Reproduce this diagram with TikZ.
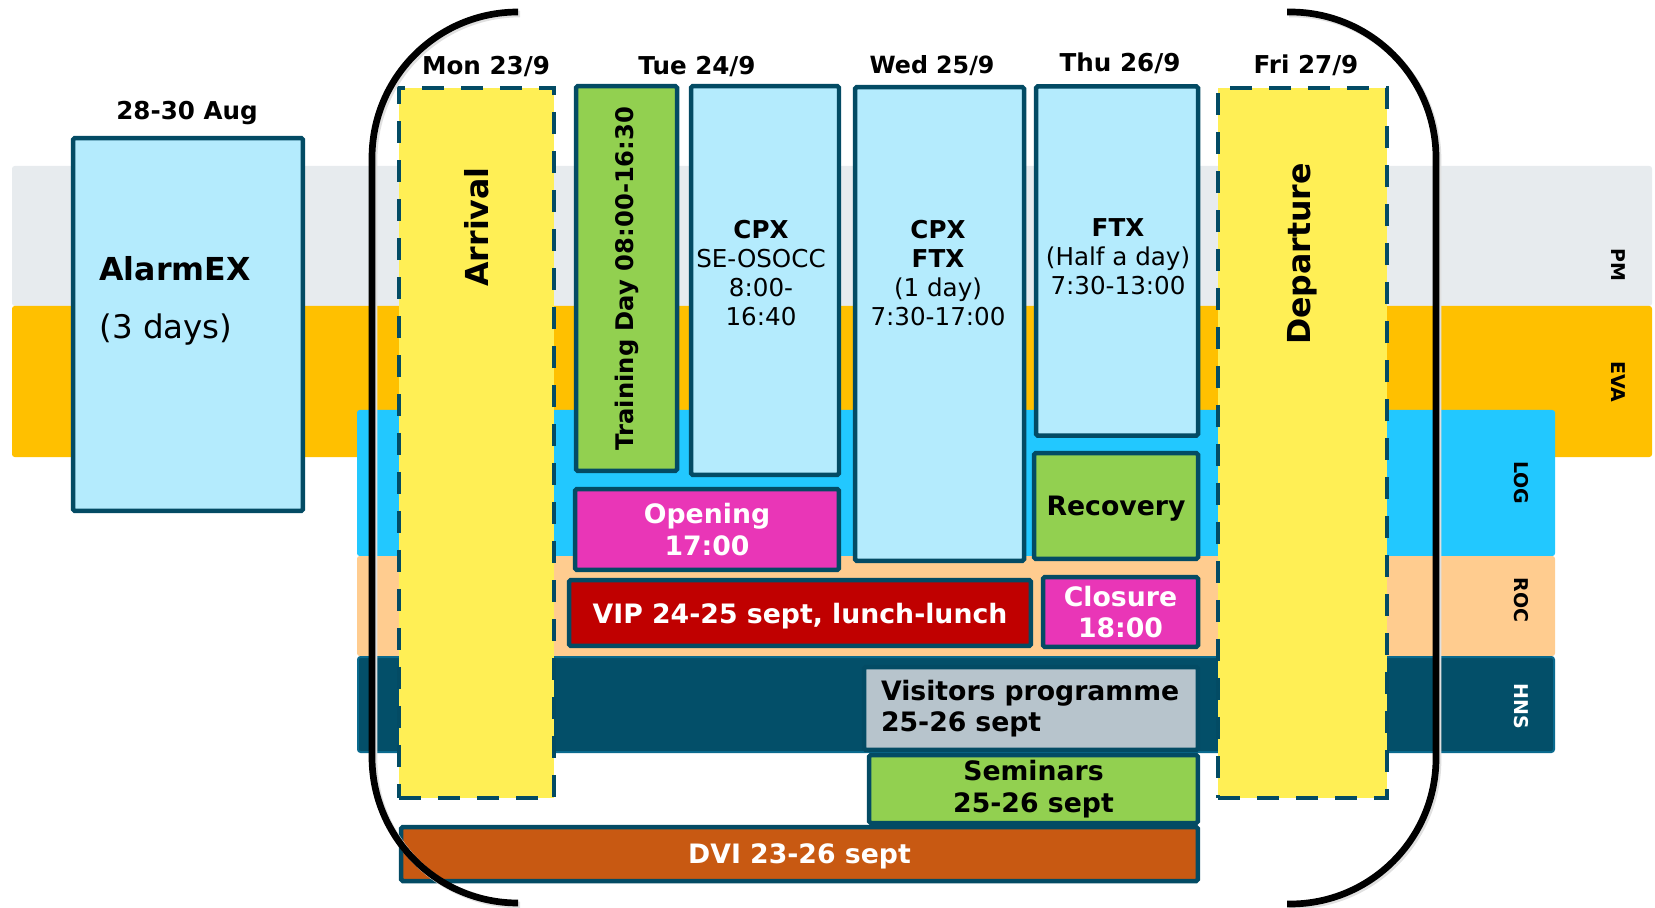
\documentclass[tikz,border=0pt]{standalone}
\usepackage{fontspec}
\setmainfont{DejaVu Sans}
\usepackage{xcolor}
\usepackage{tikz}
\definecolor{edgeblue}{RGB}{3,75,100}
\definecolor{pmgrey}{RGB}{231,235,238}
\definecolor{evaorange}{RGB}{255,192,0}
\definecolor{logblue}{RGB}{34,200,255}
\definecolor{rocpeach}{RGB}{255,204,143}
\definecolor{hnsteal}{RGB}{3,79,105}
\definecolor{hnsedge}{RGB}{10,106,142}
\definecolor{paleblue}{RGB}{180,235,253}
\definecolor{trgreen}{RGB}{146,208,80}
\definecolor{openpink}{RGB}{233,54,183}
\definecolor{vipred}{RGB}{192,0,0}
\definecolor{visgrey}{RGB}{183,196,204}
\definecolor{dvibrown}{RGB}{200,89,18}
\definecolor{dayyellow}{RGB}{255,239,85}

\begin{document}
\begin{tikzpicture}[x=0.02cm,y=-0.02cm,
  box/.style={draw=edgeblue,line width=0.09cm,rounded corners=1pt,inner sep=0pt,align=center},
  event/.style={box,font=\bfseries\fontsize{15.2}{18}\selectfont},
  arrbox/.style={fill=dayyellow,draw=edgeblue,line width=0.08cm,
                 dash pattern=on 0.44cm off 0.34cm,inner sep=0pt},
  day/.style={anchor=base,font=\bfseries\fontsize{14}{16}\selectfont},
  lane/.style={rotate=-90,font=\bfseries\fontsize{10.8}{12}\selectfont},
  info/.style={align=center,font=\fontsize{14}{16.5}\selectfont},
  bigtxt/.style={rotate=90,font=\bfseries\fontsize{18}{20}\selectfont},
  band/.style={rounded corners=1.5pt},
  bracket/.style={line width=0.134cm,rounded corners=2.92cm}
]
  \useasboundingbox (0,0) rectangle (1655,908);

  % lanes
  \fill[band,pmgrey] (12,166) rectangle (1652,306);
  \fill[band,evaorange] (12,306) rectangle (1652,457);
  \fill[band,logblue] (357,410) rectangle (1555,556);
  \fill[band,rocpeach] (357,556) rectangle (1555,656);
  \filldraw[band,fill=hnsteal,draw=hnsedge,line width=0.04cm] (358,657) rectangle (1554,752);
  \node[lane] (pm) at (1618,265) {PM};
  \node[lane] (eva) at (1618,382) {EVA};
  \node[lane] (log) at (1521,483) {LOG};
  \node[lane] (roc) at (1521,600) {ROC};
  \node[lane,white] (hns) at (1521,706) {HNS};

  % alarm exercise
  \node[day] (aug) at (187,120) {28-30 Aug};
  \node[box,fill=paleblue,minimum width=4.6cm,minimum height=7.46cm] (alarm) at (188,324.5) {};
  \node[anchor=base west,inner sep=0pt,font=\bfseries\fontsize{18}{20}\selectfont] (alarmname) at (99,281) {AlarmEX};
  \node[anchor=base west,inner sep=0pt,font=\fontsize{18.5}{20}\selectfont] (alarmdays) at (99,339) {(3 days)};

  % days
  \node[day] (mon) at (486,75) {Mon 23/9};
  \node[day] (tue) at (697,75) {Tue 24/9};
  \node[day,font=\bfseries\fontsize{13.5}{16}\selectfont] (wed) at (932,74) {Wed 25/9};
  \node[day] (thu) at (1120,72) {Thu 26/9};
  \node[day] (fri) at (1306,74) {Fri 27/9};

  \node[arrbox,minimum width=3.1cm,minimum height=14.2cm] (arrival) at (476.5,443) {};
  \node[bigtxt] (arrivaltxt) at (477,227) {Arrival};
  \node[arrbox,minimum width=3.38cm,minimum height=14.2cm] (departure) at (1302.5,443) {};
  \node[bigtxt] (departuretxt) at (1302,254) {Departure};

  \node[box,fill=trgreen,minimum width=2.02cm,minimum height=7.7cm,
        font=\bfseries\fontsize{13.8}{16}\selectfont] (training) at (626.5,278.5)
        {\rotatebox{90}{Training Day 08:00-16:30}};
  \node[box,fill=paleblue,minimum width=2.96cm,minimum height=7.78cm] (cpx) at (765,280.5) {};
  \node[info] (cpxtxt) at (761,273.5) {\textbf{CPX}\\SE-OSOCC\\8:00-\\16:40};
  \node[box,fill=paleblue,minimum width=3.38cm,minimum height=9.48cm] (cpxftx) at (939.5,324) {};
  \node[info] (cpxftxtxt) at (938,273.5) {\textbf{CPX}\\\textbf{FTX}\\(1 day)\\7:30-17:00};
  \node[box,fill=paleblue,minimum width=3.24cm,minimum height=6.99cm] (ftx) at (1117,261) {};
  \node[info] (ftxtxt) at (1118,257) {\textbf{FTX}\\(Half a day)\\7:30-13:00};

  \node[event,fill=trgreen,text depth=0pt,minimum width=3.28cm,minimum height=2.12cm] (recovery) at (1116,506) {Recovery};
  \node[event,fill=openpink,text=white,minimum width=5.28cm,minimum height=1.62cm] (opening) at (707,529.5) {Opening\\17:00};
  \node[event,fill=vipred,text=white,text depth=0pt,minimum width=9.24cm,minimum height=1.32cm] (vip) at (800,613) {VIP 24-25 sept, lunch-lunch};
  \node[event,fill=openpink,text=white,minimum width=3.1cm,minimum height=1.4cm] (closure) at (1120.5,612) {Closure\\18:00};
  \node[event,fill=visgrey,minimum width=6.68cm,minimum height=1.66cm,
        text width=6cm,inner xsep=0.34cm,align=left] (visitors) at (1031,708.5) {Visitors programme\\25-26 sept};
  \node[event,fill=trgreen,minimum width=6.58cm,minimum height=1.36cm] (seminars) at (1033.5,789) {Seminars\\25-26 sept};
  \node[event,fill=dvibrown,text=white,text depth=0pt,minimum width=15.94cm,minimum height=1.08cm] (dvi) at (799.5,854) {DVI 23-26 sept};

  % week brackets
  \draw[bracket,black!12] (520,14) -- (374,14) -- (374,905) -- (520,905);
  \draw[bracket,black!12] (1289,14) -- (1438,14) -- (1438,906) -- (1289,906);
  \draw[bracket] (518,12) -- (372,12) -- (372,903) -- (518,903);
  \draw[bracket] (1287,12) -- (1436,12) -- (1436,904) -- (1287,904);
\end{tikzpicture}
\end{document}
